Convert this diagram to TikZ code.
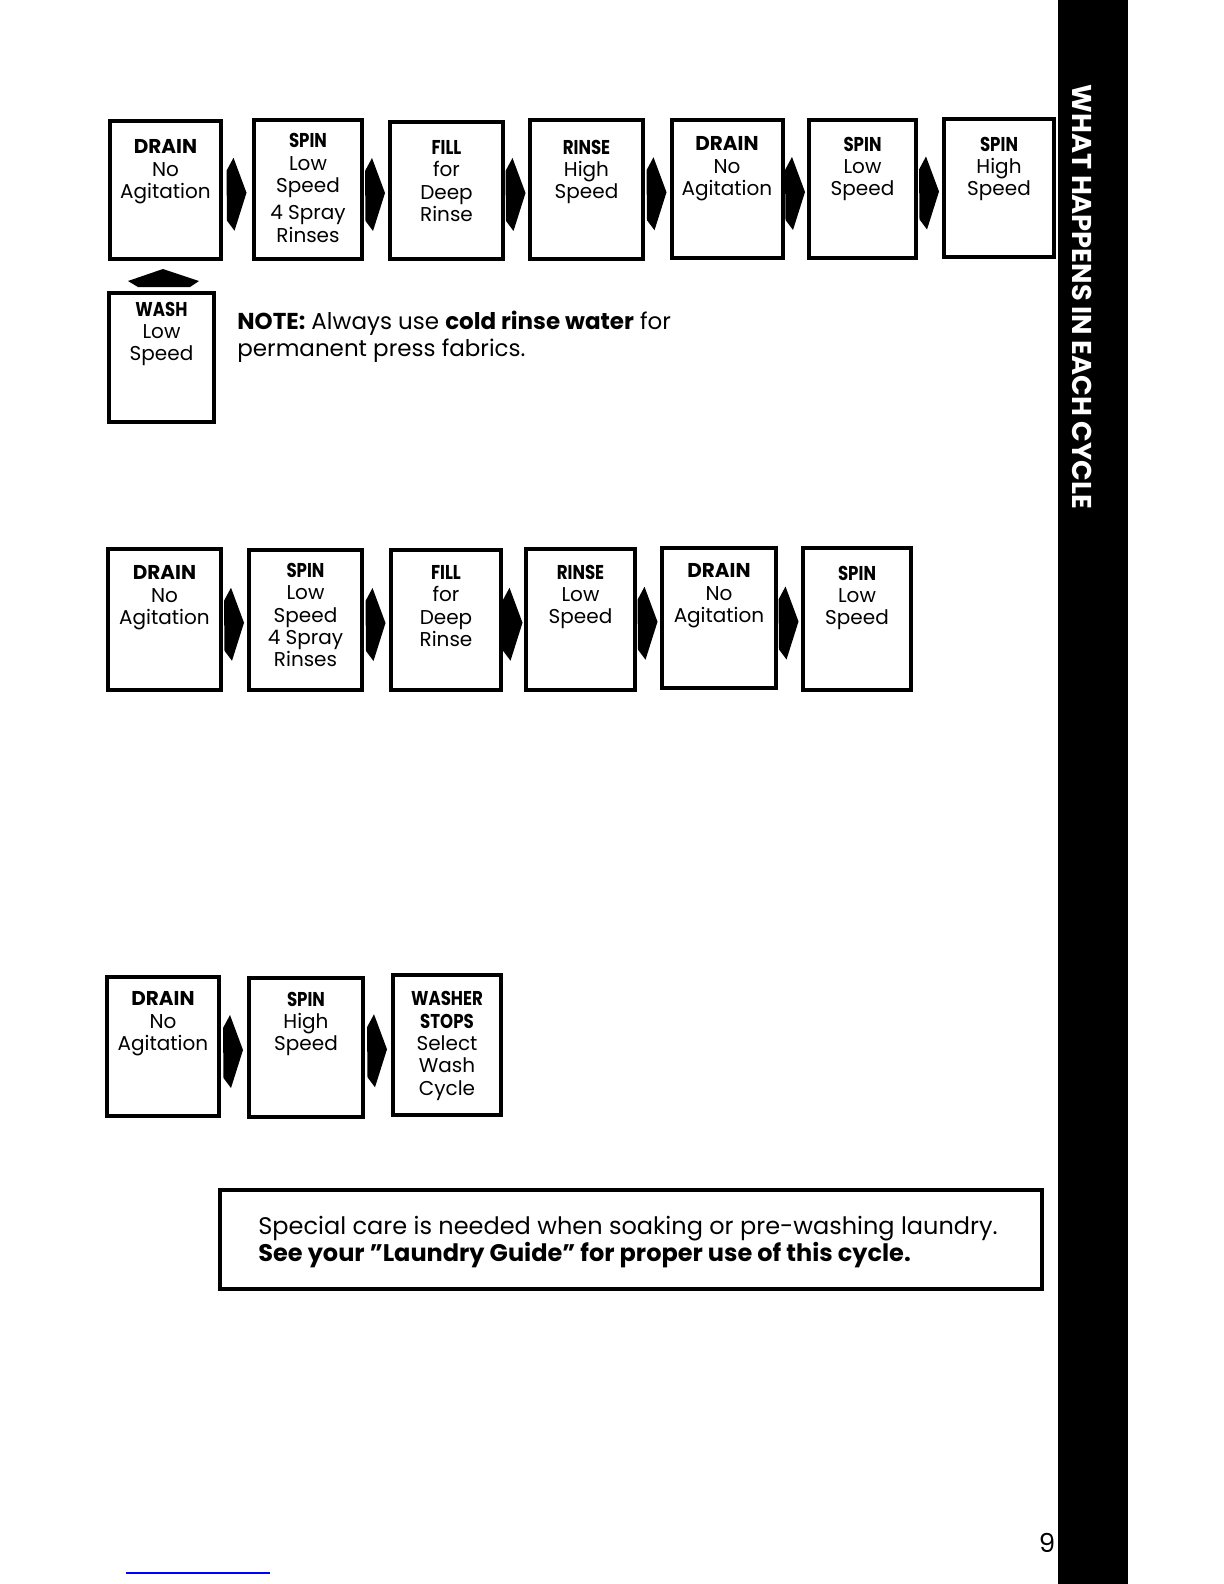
\documentclass[tikz,border=0pt]{standalone}
\usepackage{fontspec}
\setmainfont{Poppins}
\newfontfamily\hdfont{Poppins}[FakeStretch=0.83]
\usetikzlibrary{calc,fit}
\newcommand\hd[1]{{\hdfont\bfseries #1}}
\newcommand\dr[1]{{\bfseries #1}}
\newcommand\flowarrow[2]{%
  \path ($(#1.east)!0.5!(#2.west)$) ++(-1,4) coordinate (m);
  \fill ($(m)+(-10,-23)$) -- ($(m)+(-3,-36)$) -- ($(m)+(10,-1)$) -- ($(m)+(-2,37)$) -- ($(m)+(-9.5,27)$) -- cycle;}
\begin{document}
\begin{tikzpicture}[x=0.5pt,y=-0.5pt,
  box/.style={draw, line width=1.6pt, inner sep=0pt},
  lbl/.style={align=center, inner sep=0pt, font=\fontsize{10}{11.2}\selectfont},
  txt/.style={align=left, inner sep=0pt, anchor=north west}]
\useasboundingbox (0,0) rectangle (1224,1584);
\fill[white] (0,0) rectangle (1224,1584);
% side bar
\fill[black] (1058,0) rectangle (1128,1584);
\node[rotate=-90, white, inner sep=0pt, font=\fontsize{13.6}{15}\selectfont\bfseries] (side) at (1082,297) {WHAT HAPPENS IN EACH CYCLE};

% ---- row 1 ----
\node[box, fit={(110,121)(221,259)}] (r1a) {};
\node[box, fit={(254,120)(362,259)}] (r1b) {};
\node[box, fit={(390,122)(503,259)}] (r1c) {};
\node[box, fit={(530,120)(643,259)}] (r1d) {};
\node[box, fit={(672,120)(783,258)}] (r1e) {};
\node[box, fit={(809,120)(916,258)}] (r1f) {};
\node[box, fit={(944,119)(1054,257)}] (r1g) {};
\node[lbl] (t1a) at (165.5,172) {\dr{DRAIN}\\No\\Agitation};
\node[lbl] (t1b) at (308,188) {\hd{SPIN}\\Low\\Speed\\[2.5pt]4 Spray\\Rinses};
\node[lbl] (t1c) at (446.5,181) {\hd{FILL}\\for\\Deep\\Rinse};
\node[lbl] (t1d) at (586.5,172) {\hd{RINSE}\\High\\Speed};
\node[lbl] (t1e) at (727,169) {\dr{DRAIN}\\No\\Agitation};
\node[lbl] (t1f) at (862.5,169) {\hd{SPIN}\\Low\\Speed};
\node[lbl] (t1g) at (999,169) {\hd{SPIN}\\High\\Speed};
\flowarrow{r1a}{r1b}
\flowarrow{r1b}{r1c}
\flowarrow{r1c}{r1d}
\flowarrow{r1d}{r1e}
\flowarrow{r1e}{r1f}
\flowarrow{r1f}{r1g}

% wash box and up arrow
\node[box, fit={(109,293)(214,422)}] (wash) {};
\node[lbl] (twash) at (161.5,334) {\hd{WASH}\\Low\\Speed};
\path ($(wash.north)!0.5!(r1a.south)$) coordinate (u);
\fill ($(u)+(-0.5,-7)$) -- ($(u)+(35.5,5)$) -- ($(u)+(26.5,11)$) -- ($(u)+(-25.5,11)$) -- ($(u)+(-35.5,5)$) -- cycle;

\node[txt, font=\fontsize{11.5}{13.2}\selectfont] (note) at (237,311)
  {\textbf{NOTE:} Always use \textbf{cold rinse water} for\\permanent press fabrics.};

% ---- row 2 ----
\node[box, fit={(108,549)(221,690)}] (r2a) {};
\node[box, fit={(249,550)(362,690)}] (r2b) {};
\node[box, fit={(391,550)(501,690)}] (r2c) {};
\node[box, fit={(526,549)(635,690)}] (r2d) {};
\node[box, fit={(662,548)(776,688)}] (r2e) {};
\node[box, fit={(803,548)(911,690)}] (r2f) {};
\node[lbl] (t2a) at (164.5,598) {\dr{DRAIN}\\No\\Agitation};
\node[lbl] (t2b) at (305.5,615) {\hd{SPIN}\\Low\\Speed\\4 Spray\\Rinses};
\node[lbl] (t2c) at (446,606) {\hd{FILL}\\for\\Deep\\Rinse};
\node[lbl] (t2d) at (580.5,597) {\hd{RINSE}\\Low\\Speed};
\node[lbl] (t2e) at (719,596) {\dr{DRAIN}\\No\\Agitation};
\node[lbl] (t2f) at (857,598) {\hd{SPIN}\\Low\\Speed};
\flowarrow{r2a}{r2b}
\flowarrow{r2b}{r2c}
\flowarrow{r2c}{r2d}
\flowarrow{r2d}{r2e}
\flowarrow{r2e}{r2f}

% ---- row 3 ----
\node[box, fit={(107,977)(219,1116)}] (r3a) {};
\node[box, fit={(249,978)(363,1117)}] (r3b) {};
\node[box, fit={(393,975)(501,1115)}] (r3c) {};
\node[lbl] (t3a) at (163,1024) {\dr{DRAIN}\\No\\Agitation};
\node[lbl] (t3b) at (306,1024) {\hd{SPIN}\\High\\Speed};
\node[lbl] (t3c) at (447,1046) {\hd{WASHER}\\\hd{STOPS}\\Select\\Wash\\Cycle};
\flowarrow{r3a}{r3b}
\flowarrow{r3b}{r3c}

% ---- special care box ----
\node[box, fit={(220,1190)(1042,1289)}] (care) {};
\node[txt, font=\fontsize{12}{13.6}\selectfont] (caret) at (258,1216)
  {Special care is needed when soaking or pre-washing laundry.\\\textbf{See your "Laundry Guide" for proper use of this cycle.}};

% page number and blue rule
\node[inner sep=0pt, font=\fontsize{13}{15}\selectfont] (pg) at (1047,1543) {9};
\draw[blue, line width=0.8pt] (126,1573) -- (270,1573);
\end{tikzpicture}
\end{document}
